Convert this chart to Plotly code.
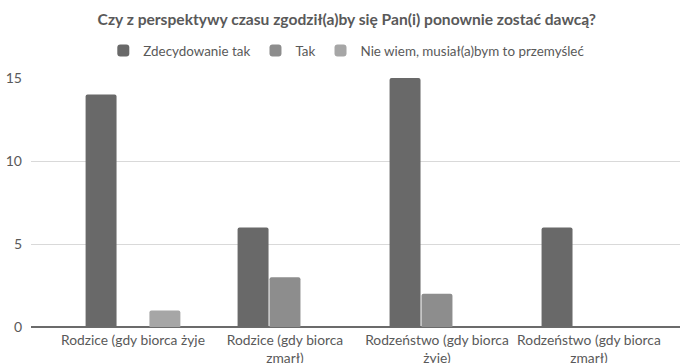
import plotly.graph_objects as go

categories = ["Rodzice (gdy biorca żyje", "Rodzice (gdy biorca<br>zmarł)",
              "Rodzeństwo (gdy biorca<br>żyje)", "Rodzeństwo (gdy biorca<br>zmarł)"]
series_names = ["Zdecydowanie tak", "Tak", "Nie wiem, musiał(a)bym to przemyśleć"]
zdecydowanie_tak = [14, 6, 15, 6]
tak = [0, 3, 2, 0]
nie_wiem = [1, 0, 0, 0]
colors = ["#696969", "#8d8d8d", "#a6a6a6"]
y_ticks = [0, 5, 10, 15]

font_family = "Lato, 'Open Sans', sans-serif"
txt = "#595959"

fig = go.Figure()
for name, vals, c in zip(series_names, [zdecydowanie_tak, tak, nie_wiem], colors):
    fig.add_trace(go.Bar(x=categories, y=vals, name=name,
                         marker=dict(color=c, cornerradius=2, line=dict(width=0))))

fig.update_layout(
    width=680, height=363,
    margin=dict(l=31, r=0, t=78, b=36, autoexpand=False),
    paper_bgcolor="white", plot_bgcolor="white",
    barmode="group", bargap=0.37, bargroupgap=0.03,
    font=dict(family=font_family, color=txt, size=14),
    title=dict(text="<b>Czy z perspektywy czasu zgodził(a)by się Pan(i) ponownie zostać dawcą?</b>",
               x=0.51, xref="container", xanchor="center",
               y=0.945, yref="container", yanchor="middle",
               font=dict(size=15.6, color=txt)),
    legend=dict(orientation="h", x=0.51, xref="container", xanchor="center",
                y=0.86, yref="container", yanchor="middle",
                font=dict(size=13.4, color=txt), itemwidth=30,
                traceorder="normal"),
    showlegend=True,
)

fig.update_xaxes(range=[-0.671, 3.599], showline=False, showgrid=False,
                 ticks="", tickfont=dict(size=13.8, color=txt), tickangle=0,
                 ticklabelstandoff=3, fixedrange=True, automargin=False)
fig.update_yaxes(range=[0, 15], tickvals=y_ticks, showgrid=True,
                 gridcolor="#d9d9d9", gridwidth=1,
                 zeroline=True, zerolinecolor="#6b6b6b", zerolinewidth=2,
                 showline=False, ticks="", ticklabelstandoff=8,
                 tickfont=dict(size=14, color=txt), automargin=False)

fig.write_html("out.html")
